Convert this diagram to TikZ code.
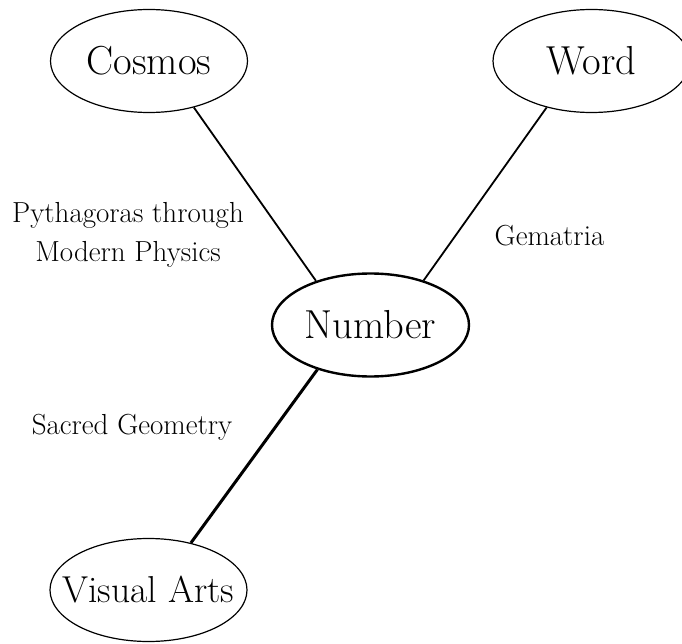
\documentclass[tikz,border=0pt]{standalone}
\usepackage{fontspec}
\usetikzlibrary{shapes.geometric}
\begin{document}
\begin{tikzpicture}[x=1pt,y=-1pt,
  topic/.style={ellipse,draw,line width=1.2pt,inner sep=0pt,minimum width=197pt,minimum height=103pt,font=\fontsize{40.5}{44}\selectfont},
  hub/.style={topic,line width=2.4pt},
  link/.style={line width=1.8pt},
  boldlink/.style={line width=3pt},
  lbl/.style={align=center,font=\fontsize{29}{39}\selectfont,inner sep=0pt}]
\useasboundingbox (0,0) rectangle (682,644);
\node[topic] (cosmos) at (149,61) {\makebox[0pt]{Cosmos}};
\node[topic] (word) at (591.5,61) {\makebox[0pt]{Word}};
\node[hub] (number) at (370.5,325) {\makebox[0pt]{Number}};
\node[topic,font=\fontsize{37.5}{44}\selectfont] (visual) at (148.5,590) {\makebox[0pt]{Visual Arts}};
\draw[link] (cosmos.-46) -- (number.141);
\draw[link] (word.-134) -- (number.40);
\draw[boldlink] (number.-140) -- (visual.48);
\node[lbl] (pyth) at (128,235) {Pythagoras through\\Modern Physics};
\node[lbl] (gem) at (549.5,236) {Gematria};
\node[lbl] (sacred) at (132,427) {Sacred Geometry};
\end{tikzpicture}
\end{document}
